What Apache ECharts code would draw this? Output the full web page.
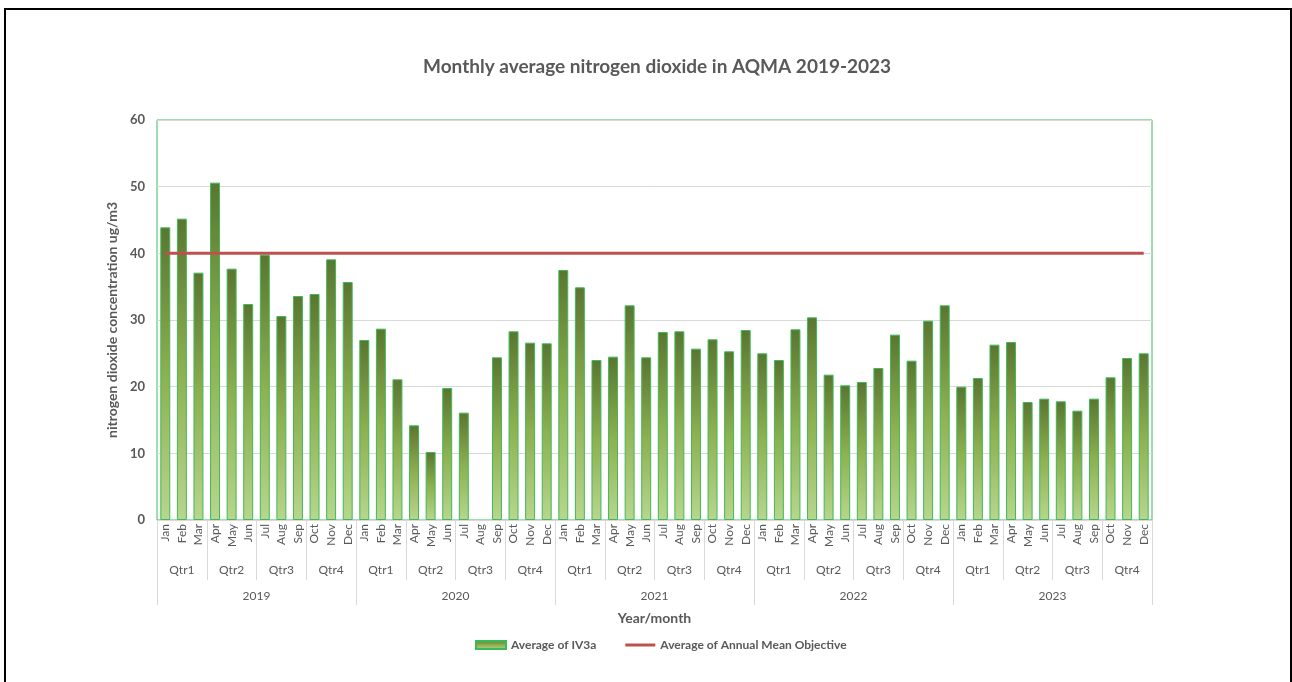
<!DOCTYPE html>
<html>
<head>
<meta charset="utf-8">
<script src="https://cdn.jsdelivr.net/npm/echarts@6/dist/echarts.min.js"></script>
<style>
  html, body { margin: 0; padding: 0; background: #fff; }
  #chart { width: 1292px; height: 682px; }
</style>
</head>
<body>
<div id="chart"></div>
<script>
// categories
const months = ["Jan","Feb","Mar","Apr","May","Jun","Jul","Aug","Sep","Oct","Nov","Dec",
  "Jan","Feb","Mar","Apr","May","Jun","Jul","Aug","Sep","Oct","Nov","Dec",
  "Jan","Feb","Mar","Apr","May","Jun","Jul","Aug","Sep","Oct","Nov","Dec",
  "Jan","Feb","Mar","Apr","May","Jun","Jul","Aug","Sep","Oct","Nov","Dec",
  "Jan","Feb","Mar","Apr","May","Jun","Jul","Aug","Sep","Oct","Nov","Dec"];
const quarters = ["Qtr1","Qtr2","Qtr3","Qtr4","Qtr1","Qtr2","Qtr3","Qtr4",
  "Qtr1","Qtr2","Qtr3","Qtr4","Qtr1","Qtr2","Qtr3","Qtr4","Qtr1","Qtr2","Qtr3","Qtr4"];
const years = ["2019","2020","2021","2022","2023"];

// Average of IV3a (ug/m3), Aug 2020 has no data
const iv3a = [
  43.9, 45.2, 37.1, 50.6, 37.7, 32.4, 39.8, 30.6, 33.6, 33.9, 39.1, 35.7,
  27.0, 28.7, 21.1, 14.2, 10.2, 19.8, 16.1, null, 24.4, 28.3, 26.6, 26.5,
  37.5, 34.9, 24.0, 24.5, 32.2, 24.4, 28.2, 28.3, 25.7, 27.1, 25.3, 28.5,
  25.0, 24.0, 28.6, 30.4, 21.8, 20.2, 20.7, 22.8, 27.8, 23.9, 29.9, 32.2,
  20.0, 21.3, 26.3, 26.7, 17.7, 18.2, 17.8, 16.4, 18.2, 21.4, 24.3, 25.0
];
// Average of Annual Mean Objective
const objective = [
  40, 40, 40, 40, 40, 40, 40, 40, 40, 40, 40, 40,
  40, 40, 40, 40, 40, 40, 40, 40, 40, 40, 40, 40,
  40, 40, 40, 40, 40, 40, 40, 40, 40, 40, 40, 40,
  40, 40, 40, 40, 40, 40, 40, 40, 40, 40, 40, 40,
  40, 40, 40, 40, 40, 40, 40, 40, 40, 40, 40, 40
];
const yTicks = { min: 0, max: 60, interval: 10 };

const font = "Lato, 'Open Sans', sans-serif";
const grey = "#595959";

let chart = echarts.init(document.getElementById("chart"));
chart.setOption({
  animation: false,
  backgroundColor: "#fff",
  textStyle: { fontFamily: font },
  graphic: [{
    type: "rect",
    shape: { x: 5, y: 9, width: 1286, height: 700 },
    style: { fill: "none", stroke: "#000", lineWidth: 2 },
    silent: true
  }],
  title: {
    text: "Monthly average nitrogen dioxide in AQMA 2019-2023",
    left: 418,
    top: 52,
    textStyle: { fontFamily: font, fontSize: 19, fontWeight: "bold", color: grey }
  },
  legend: {
    bottom: 26,
    left: 470,
    itemGap: 29,
    itemWidth: 30,
    itemHeight: 8,
    textStyle: { fontFamily: font, fontSize: 12, fontWeight: "bold", color: grey },
    data: [
      { name: "Average of IV3a", icon: "rect" },
      { name: "Average of Annual Mean Objective", icon: "path://M0 0H30V3H0Z" }
    ]
  },
  grid: {
    left: 157, right: 140, top: 120, bottom: 162,
    show: true,
    borderColor: "#3cba5a",
    borderWidth: 1
  },
  xAxis: [
    {
      type: "category",
      data: months,
      position: "bottom",
      axisLine: { lineStyle: { color: "#d9d9d9" } },
      axisTick: { show: false },
      axisLabel: { interval: 0, rotate: 90, margin: 4, fontSize: 12, color: grey, fontFamily: font }
    },
    {
      type: "category",
      data: quarters,
      position: "bottom",
      axisLine: { show: false },
      axisTick: { show: true, interval: 0, length: 60, lineStyle: { color: "#d9d9d9" } },
      axisLabel: { interval: 0, margin: 44, fontSize: 12, color: grey, fontFamily: font }
    },
    {
      type: "category",
      data: years,
      position: "bottom",
      name: "Year/month",
      nameLocation: "middle",
      nameGap: 91,
      nameTextStyle: { fontFamily: font, fontSize: 14, fontWeight: "bold", color: grey },
      axisLine: { show: false },
      axisTick: { show: true, interval: 0, length: 85, lineStyle: { color: "#d9d9d9" } },
      axisLabel: { interval: 0, margin: 70, fontSize: 12, color: grey, fontFamily: font }
    }
  ],
  yAxis: {
    type: "value",
    min: yTicks.min,
    max: yTicks.max,
    interval: yTicks.interval,
    name: "nitrogen dioxide concentration ug/m3",
    nameLocation: "middle",
    nameGap: 31,
    nameTextStyle: { fontFamily: font, fontSize: 14, fontWeight: "bold", color: grey },
    axisLine: { show: false },
    axisTick: { show: false },
    axisLabel: { margin: 12, fontSize: 13, fontWeight: "bold", color: grey, fontFamily: font },
    splitLine: { lineStyle: { color: "#d9d9d9" } }
  },
  series: [
    {
      name: "Average of IV3a",
      type: "bar",
      xAxisIndex: 0,
      data: iv3a,
      barCategoryGap: "40%",
      itemStyle: {
        borderColor: "#3cba5a",
        borderWidth: 1,
        color: new echarts.graphic.LinearGradient(0, 0, 0, 1, [
          { offset: 0, color: "#5b7530" },
          { offset: 0.5, color: "#8db050" },
          { offset: 1, color: "#b8d68d" }
        ])
      }
    },
    {
      name: "Average of Annual Mean Objective",
      type: "line",
      xAxisIndex: 0,
      data: objective,
      symbol: "none",
      lineStyle: { color: "#c0504d", width: 3 },
      itemStyle: { color: "#c0504d" },
      z: 5
    }
  ]
});
</script>
</body>
</html>
